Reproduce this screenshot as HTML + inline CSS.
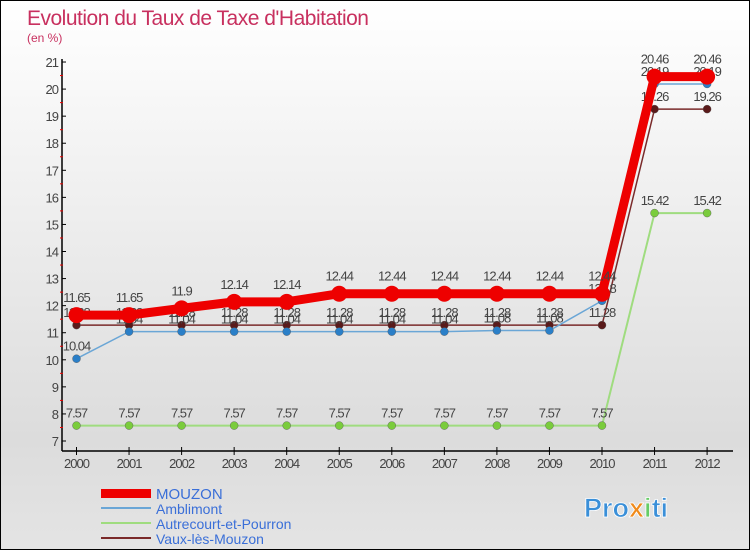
<!DOCTYPE html>
<html><head><meta charset="utf-8"><style>
body{margin:0}
#c{width:748px;height:548px;border:1px solid #000;position:relative;overflow:hidden;background:linear-gradient(#fff,#dcdcdc 80%,#e4e4e4);font-family:"Liberation Sans",sans-serif}
</style></head><body>
<div id="c">
<svg id="s" width="748" height="548">
<text x="26" y="24" font-size="21" fill="#c8305f" letter-spacing="-0.5">Evolution du Taux de Taxe d'Habitation</text>
<text x="26" y="41" font-size="12" fill="#c8305f">(en %)</text>
<g id="g"></g>
<g>
<rect x="100" y="488" width="50" height="9" fill="#e00"/>
<text x="155" y="498" font-size="15" fill="#3a6fd8">MOUZON</text>
<rect x="100" y="506" width="50" height="2" fill="#6aa6d6"/>
<text x="155" y="513" font-size="14" fill="#3a6fd8">Amblimont</text>
<rect x="100" y="521" width="50" height="2" fill="#9fdc7f"/>
<text x="155" y="528" font-size="14" fill="#3a6fd8">Autrecourt-et-Pourron</text>
<rect x="100" y="536" width="50" height="2" fill="#7a2a2a"/>
<text x="155" y="543" font-size="14" fill="#3a6fd8">Vaux-lès-Mouzon</text>
</g>
<text x="583" y="516" font-size="27" font-weight="bold" fill="#3a8fd8" stroke="#fff" stroke-width="0.8">Pro<tspan fill="#f08a1a">x</tspan><tspan fill="#6c6">i</tspan>ti</text>
</svg>
</div>
<script>
const years=[2000,2001,2002,2003,2004,2005,2006,2007,2008,2009,2010,2011,2012];
const mouzon=[11.65,11.65,11.9,12.14,12.14,12.44,12.44,12.44,12.44,12.44,12.44,20.46,20.46];
const amblimont=[10.04,11.04,11.04,11.04,11.04,11.04,11.04,11.04,11.08,11.08,12.18,20.19,20.19];
const autrecourt=[7.57,7.57,7.57,7.57,7.57,7.57,7.57,7.57,7.57,7.57,7.57,15.42,15.42];
const vaux=[11.28,11.28,11.28,11.28,11.28,11.28,11.28,11.28,11.28,11.28,11.28,19.26,19.26];
const yTicks=[7,8,9,10,11,12,13,14,15,16,17,18,19,20,21];
const NS="http://www.w3.org/2000/svg";
const g=document.getElementById('g');
const X=i=>75.5+i*52.55, Y=v=>440-(v-7)*27.07;
function el(t,a){const e=document.createElementNS(NS,t);for(const k in a)e.setAttribute(k,a[k]);g.appendChild(e);return e;}
let ax=el('line',{x1:61,y1:58,x2:61,y2:450,stroke:'#000','stroke-width':1.5});


let bx=el('line',{x1:61,y1:450,x2:732,y2:450,stroke:'#000','stroke-width':1.5});


yTicks.forEach(v=>{
 el('line',{x1:61,y1:Y(v),x2:65,y2:Y(v),stroke:'#000'});
 if(v<21)el('line',{x1:59,y1:Y(v+0.5),x2:62,y2:Y(v+0.5),stroke:'#e00'});
 let t=el('text',{x:57,y:Y(v)+5,'font-size':13,fill:'#444','text-anchor':'end','letter-spacing':'-1'});t.textContent=v;
 
 
});
years.forEach((y,i)=>{
 el('line',{x1:X(i),y1:446,x2:X(i),y2:454,stroke:'#000'});
 let t=el('text',{x:X(i),y:467,'font-size':13,fill:'#444','text-anchor':'middle','letter-spacing':'-1'});t.textContent=y;
 
 
});
function series(d,col,w,r,dot,name,lblOff){
 let p=el('polyline',{points:d.map((v,i)=>X(i)+','+Y(v)).join(' '),fill:'none',stroke:col,'stroke-width':w,'stroke-linejoin':'round'});
 
 
 d.forEach((v,i)=>{
  let c=el('circle',{cx:X(i),cy:Y(v),r:r,fill:dot,stroke:'#555','stroke-width':r>5?0:0.4});
  
  
  let t=el('text',{x:X(i),y:Y(v)-lblOff,'font-size':13,fill:'#444','text-anchor':'middle','letter-spacing':'-1'});t.textContent=v;
  
  
 });
}
series(autrecourt,'#9fdc7f',2,4,'#7acc3c','autrecourt',8);
series(vaux,'#7a2a2a',1.5,4,'#5a1a1a','vaux',8);
series(amblimont,'#6aa6d6',1.5,4,'#2a7fc8','amblimont',8);
series(mouzon,'#e00',9,8,'#e00','mouzon',13);
</script>
</body></html>
